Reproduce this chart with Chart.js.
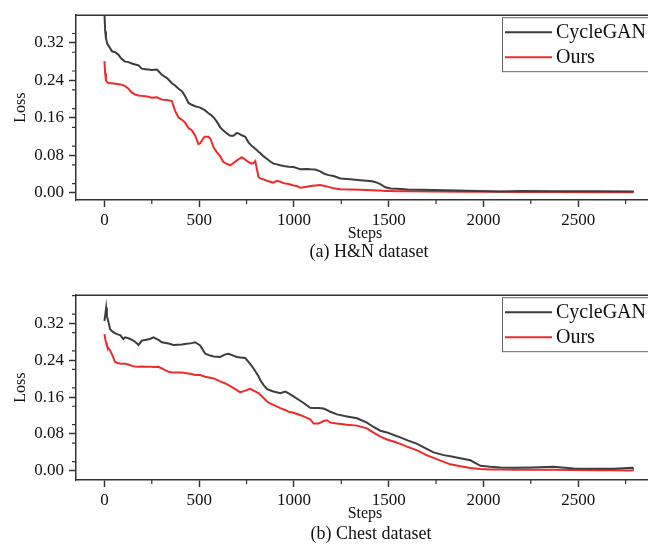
<!DOCTYPE html>
<html>
<head>
<meta charset="utf-8">
<script src="https://cdn.jsdelivr.net/npm/chart.js@4.4.1/dist/chart.umd.min.js"></script>
<style>
html, body { margin: 0; padding: 0; background: #fff; overflow: hidden; width: 648px; height: 546px; }
.panel { position: absolute; left: 0; }
.caption { position: absolute; font-family: 'Liberation Serif', 'Times New Roman', serif; font-size: 18px; color: #111; white-space: nowrap; transform: translateX(-50%); line-height: 20px; }
</style>
</head>
<body>
<div class="panel" style="top:0px"><canvas id="chartHN" width="680" height="266"></canvas></div>
<div class="panel" style="top:280px"><canvas id="chartChest" width="680" height="266"></canvas></div>
<div class="caption" style="left:369px; top:241px">(a) H&amp;N dataset</div>
<div class="caption" style="left:371px; top:523px">(b) Chest dataset</div>
<script>
// series names
const seriesNames = ['CycleGAN', 'Ours'];

// (a) H&N dataset
const hnSteps = [0, 4, 8, 15, 25, 40, 57, 75, 90, 109, 127, 145, 162, 180, 197, 215, 232, 250, 277, 303,
  330, 356, 373, 391, 409, 426, 444, 461, 479, 496, 505, 514, 528, 549, 560, 576, 593, 611, 628, 646,
  664, 681, 699, 712, 725, 743, 760, 778, 787, 796, 805, 813, 822, 840, 857, 875, 892, 910, 928, 945,
  972, 998, 1016, 1033, 1069, 1086, 1112, 1139, 1160, 1183, 1209, 1245, 1297, 1350, 1412, 1438, 1456, 1482, 1510, 1544,
  1600, 1737, 1913, 2089, 2200, 2400, 2600, 2793];
const hnCycleGAN = [0.385, 0.345, 0.330, 0.318, 0.312, 0.302, 0.300, 0.294, 0.286, 0.280, 0.279, 0.276, 0.274, 0.272, 0.265, 0.264, 0.263, 0.262, 0.263, 0.252,
  0.245, 0.234, 0.229, 0.222, 0.217, 0.206, 0.192, 0.188, 0.185, 0.183, 0.182, 0.180, 0.177, 0.170, 0.167, 0.161, 0.152, 0.140, 0.133, 0.127,
  0.122, 0.122, 0.128, 0.126, 0.123, 0.120, 0.108, 0.100, 0.0975, 0.094, 0.091, 0.088, 0.085, 0.078, 0.073, 0.067, 0.0625, 0.061, 0.059, 0.0575,
  0.056, 0.0554, 0.053, 0.0505, 0.051, 0.0505, 0.050, 0.046, 0.041, 0.038, 0.036, 0.031, 0.029, 0.027, 0.025, 0.022, 0.019, 0.012, 0.0095, 0.009,
  0.0075, 0.0063, 0.0048, 0.003, 0.004, 0.0035, 0.0036, 0.003];
const hnOurs = [0.281, 0.255, 0.240, 0.236, 0.234, 0.234, 0.233, 0.232, 0.231, 0.228, 0.222, 0.214, 0.210, 0.208, 0.207, 0.206, 0.205, 0.203, 0.204, 0.199,
  0.198, 0.196, 0.175, 0.161, 0.156, 0.150, 0.138, 0.134, 0.122, 0.104, 0.106, 0.112, 0.120, 0.120, 0.115, 0.0975, 0.087, 0.078, 0.066, 0.062,
  0.059, 0.064, 0.0695, 0.073, 0.0764, 0.071, 0.066, 0.0625, 0.064, 0.068, 0.050, 0.034, 0.031, 0.029, 0.026, 0.024, 0.022, 0.026, 0.024, 0.021,
  0.019, 0.016, 0.0147, 0.011, 0.0133, 0.0147, 0.016, 0.0168, 0.015, 0.013, 0.010, 0.008, 0.0075, 0.007, 0.006, 0.0055, 0.005, 0.0042, 0.004, 0.0038,
  0.0035, 0.003, 0.0028, 0.0025, 0.002, 0.0018, 0.0015, 0.0015];

// (b) Chest dataset
const chestSteps = [0, 5, 9, 13, 18, 30, 43, 56, 70, 83, 100, 109, 130, 145, 162, 180, 197, 215, 240, 259,
  285, 303, 338, 364, 409, 426, 460, 479, 505, 532, 558, 576, 611, 635, 655, 680, 699, 717, 743, 769,
  787, 813, 822, 840, 857, 866, 892, 928, 954, 972, 998, 1033, 1051, 1086, 1104, 1130, 1156, 1174, 1192, 1227,
  1280, 1333, 1385, 1420, 1456, 1491, 1530, 1561, 1600, 1650, 1703, 1737, 1790, 1825, 1878, 1931, 1984, 2036, 2089, 2160,
  2260, 2371, 2476, 2600, 2688, 2785, 2793];
const chestCycleGAN = [0.325, 0.340, 0.3535, 0.335, 0.3285, 0.307, 0.302, 0.2986, 0.296, 0.2944, 0.286, 0.2895, 0.287, 0.284, 0.280, 0.273, 0.2824, 0.284, 0.286, 0.2894,
  0.284, 0.279, 0.276, 0.273, 0.274, 0.275, 0.277, 0.279, 0.272, 0.254, 0.250, 0.248, 0.247, 0.252, 0.254, 0.250, 0.247, 0.246, 0.2447, 0.232,
  0.2219, 0.205, 0.197, 0.186, 0.178, 0.1758, 0.172, 0.1685, 0.172, 0.168, 0.1615, 0.152, 0.147, 0.1365, 0.136, 0.136, 0.135, 0.132, 0.128, 0.1224,
  0.118, 0.1139, 0.1045, 0.095, 0.087, 0.0832, 0.077, 0.0725, 0.066, 0.0584, 0.047, 0.040, 0.034, 0.0314, 0.027, 0.0228, 0.0107, 0.0085, 0.0073, 0.0064,
  0.0070, 0.0085, 0.0050, 0.0045, 0.0045, 0.0064, 0.004];
const chestOurs = [0.2966, 0.285, 0.278, 0.272, 0.268, 0.261, 0.250, 0.236, 0.234, 0.233, 0.2325, 0.2325, 0.230, 0.2276, 0.226, 0.2255, 0.2265, 0.2255, 0.226, 0.225,
  0.2255, 0.222, 0.2148, 0.213, 0.2133, 0.212, 0.210, 0.2077, 0.2077, 0.204, 0.202, 0.2005, 0.194, 0.190, 0.186, 0.180, 0.175, 0.170, 0.174, 0.178,
  0.174, 0.1685, 0.165, 0.158, 0.1508, 0.148, 0.143, 0.136, 0.132, 0.128, 0.1258, 0.121, 0.118, 0.1118, 0.1024, 0.1025, 0.108, 0.1096, 0.1045, 0.1024,
  0.100, 0.098, 0.092, 0.083, 0.074, 0.068, 0.063, 0.0584, 0.052, 0.0442, 0.0335, 0.028, 0.0192, 0.014, 0.010, 0.006, 0.004, 0.003, 0.003, 0.0025,
  0.0022, 0.002, 0.0015, 0.0012, 0.001, 0.0008, 0.001];

const yTickValues = [0.00, 0.08, 0.16, 0.24, 0.32];
const xTickValues = [0, 500, 1000, 1500, 2000, 2500];

const colors = ['#3d3d3d', '#ee2a2a'];
const serif = "'Liberation Serif', 'Times New Roman', serif";

function toPoints(steps, vals) {
    return steps.map((s, i) => ({ x: s, y: vals[i] }));
}

// frame, minor ticks and boxed legend
const framePlugin = {
    id: 'frame',
    afterDraw(chart) {
        const ctx = chart.ctx;
        const a = chart.chartArea;
        const xs = chart.scales.x, ys = chart.scales.y;
        ctx.save();
        ctx.strokeStyle = '#333';
        ctx.lineWidth = 1.5;
        ctx.beginPath();
        ctx.moveTo(a.left, a.top); ctx.lineTo(a.right, a.top); ctx.lineTo(a.right, a.bottom);
        ctx.stroke();

        // minor ticks
        ctx.lineWidth = 1.2;
        ctx.beginPath();
        for (let v = 0.02; v < ys.max; v += 0.04) {
            const py = ys.getPixelForValue(v);
            ctx.moveTo(a.left - 4, py); ctx.lineTo(a.left, py);
        }
        for (let v = 250; v < xs.max; v += 500) {
            const px = xs.getPixelForValue(v);
            ctx.moveTo(px, a.bottom); ctx.lineTo(px, a.bottom + 4);
        }
        ctx.stroke();

        // legend
        const bx = a.right - 152, by = a.top + 2;
        ctx.lineWidth = 1;
        ctx.strokeStyle = '#666';
        ctx.strokeRect(bx + 0.5, by + 0.5, 160, 54);
        ctx.font = '20px ' + serif;
        ctx.textBaseline = 'middle';
        ctx.fillStyle = '#111';
        chart.data.datasets.forEach((ds, i) => {
            const ry = by + 15 + i * 25;
            ctx.strokeStyle = ds.borderColor;
            ctx.lineWidth = 2;
            ctx.beginPath();
            ctx.moveTo(bx + 3, ry); ctx.lineTo(bx + 50, ry);
            ctx.stroke();
            ctx.fillText(ds.label, bx + 54, ry + 1);
        });
        ctx.restore();
    }
};

function makeChart(id, steps, cyc, ours, yMin, yMax, padTop) {
    new Chart(document.getElementById(id), {
        type: 'line',
        data: {
            datasets: [
                { label: seriesNames[0], data: toPoints(steps, cyc), borderColor: colors[0], borderWidth: 2, pointRadius: 0, tension: 0 },
                { label: seriesNames[1], data: toPoints(steps, ours), borderColor: colors[1], borderWidth: 2, pointRadius: 0, tension: 0 }
            ]
        },
        options: {
            responsive: false,
            animation: false,
            layout: { padding: { left: 0, top: padTop, right: 26, bottom: 0 } },
            plugins: { legend: { display: false }, tooltip: { enabled: false } },
            scales: {
                x: {
                    type: 'linear',
                    min: -150, max: 2900,
                    afterFit: (s) => { s.height = 66; },
                    afterBuildTicks: (s) => { s.ticks = xTickValues.map(v => ({ value: v })); },
                    grid: { drawOnChartArea: false, tickLength: 7, tickColor: '#333', tickWidth: 1.5 },
                    border: { color: '#333', width: 1.5 },
                    ticks: { font: { family: serif, size: 17 }, color: '#111', padding: 3, maxRotation: 0, callback: (v) => String(v) },
                    title: { display: true, text: 'Steps', font: { family: serif, size: 16 }, color: '#111', padding: { top: 0, bottom: 23 } }
                },
                y: {
                    min: yMin, max: yMax,
                    afterFit: (s) => { s.width = 76; },
                    afterBuildTicks: (s) => { s.ticks = yTickValues.map(v => ({ value: v })); },
                    grid: { drawOnChartArea: false, tickLength: 7, tickColor: '#333', tickWidth: 1.5 },
                    border: { color: '#333', width: 1.5 },
                    ticks: { font: { family: serif, size: 17 }, color: '#111', padding: 5, callback: (v) => Number(v).toFixed(2) },
                    title: { display: true, text: 'Loss', font: { family: serif, size: 16 }, color: '#111', padding: { top: 11, bottom: 0 } }
                }
            }
        },
        plugins: [framePlugin]
    });
}

makeChart('chartHN', hnSteps, hnCycleGAN, hnOurs, -0.015, 0.379, 13);
makeChart('chartChest', chestSteps, chestCycleGAN, chestOurs, -0.02, 0.381, 12);
</script>
</body>
</html>
